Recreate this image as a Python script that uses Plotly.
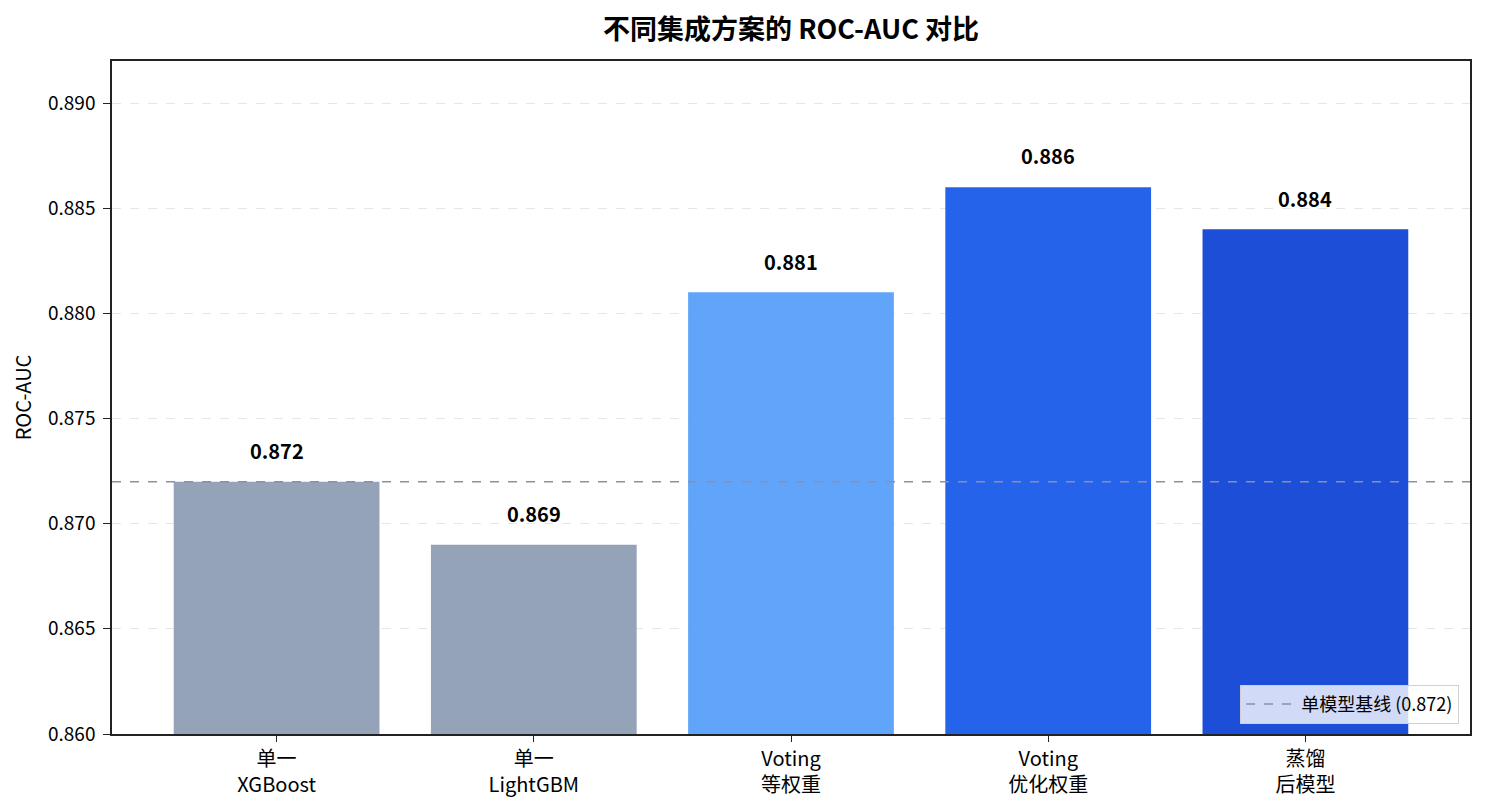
import plotly.graph_objects as go

# 各方案及其 ROC-AUC
schemes = ['单一<br>XGBoost', '单一<br>LightGBM', 'Voting<br>等权重', 'Voting<br>优化权重', '蒸馏<br>后模型']
roc_auc = [0.872, 0.869, 0.881, 0.886, 0.884]
bar_colors = ['#94a3b8', '#94a3b8', '#60a5fa', '#2563eb', '#1d4ed8']
baseline = 0.872
y_ticks = [0.860, 0.865, 0.870, 0.875, 0.880, 0.885, 0.890]

FONT = 'Noto Sans CJK SC'

fig = go.Figure()

fig.add_trace(go.Bar(
    x=list(range(len(schemes))),
    y=roc_auc,
    width=0.8,
    marker=dict(color=bar_colors, line=dict(width=0)),
    showlegend=False,
    hoverinfo='y',
))

# 数值标签
for i, v in enumerate(roc_auc):
    fig.add_annotation(
        x=i, y=v + 0.0007, text=f'<b>{v:.3f}</b>',
        showarrow=False, yanchor='bottom',
        font=dict(family=FONT, size=20, color='#000000'),
    )

# 基线
fig.add_shape(
    type='line', xref='paper', x0=0, x1=1, yref='y', y0=baseline, y1=baseline,
    line=dict(color='#8b90a8', width=1.5, dash='dash'),
    showlegend=True, name=f'单模型基线 ({baseline})', layer='above',
)

fig.update_layout(
    width=1485, height=811,
    paper_bgcolor='white', plot_bgcolor='white',
    margin=dict(l=104, r=23, t=53, b=85),
    font=dict(family=FONT, size=19, color='#000000'),
    title=dict(text='<b>不同集成方案的 ROC-AUC 对比</b>', x=0.5, xref='paper',
               y=0.974, yanchor='middle', font=dict(size=27)),
    bargap=0.2,
    legend=dict(x=0.992, y=0.015, xanchor='right', yanchor='bottom',
                bgcolor='rgba(255,255,255,0.8)', bordercolor='#d0d0d0', borderwidth=1,
                font=dict(size=18), itemwidth=50),
)

fig.update_xaxes(
    range=[-0.64, len(schemes) - 1 + 0.64],
    tickmode='array', tickvals=list(range(len(schemes))), ticktext=schemes,
    showgrid=False, zeroline=False,
    showline=True, linecolor='#222222', linewidth=1.5, mirror=True,
    ticks='outside', ticklen=6, tickcolor='#222222',
    tickfont=dict(size=20),
)

fig.update_yaxes(
    range=[0.860, 0.892],
    tickmode='array', tickvals=y_ticks, ticktext=[f'{t:.3f}' for t in y_ticks],
    showgrid=True, gridcolor='rgba(200,200,200,0.45)', griddash='dash', gridwidth=1,
    zeroline=False,
    showline=True, linecolor='#222222', linewidth=1.5, mirror=True,
    ticks='outside', ticklen=7, tickcolor='#222222', ticklabelstandoff=4,
    tickfont=dict(size=19),
    title=dict(text='ROC-AUC', font=dict(size=20), standoff=14),
)

fig.write_html('out.html')
